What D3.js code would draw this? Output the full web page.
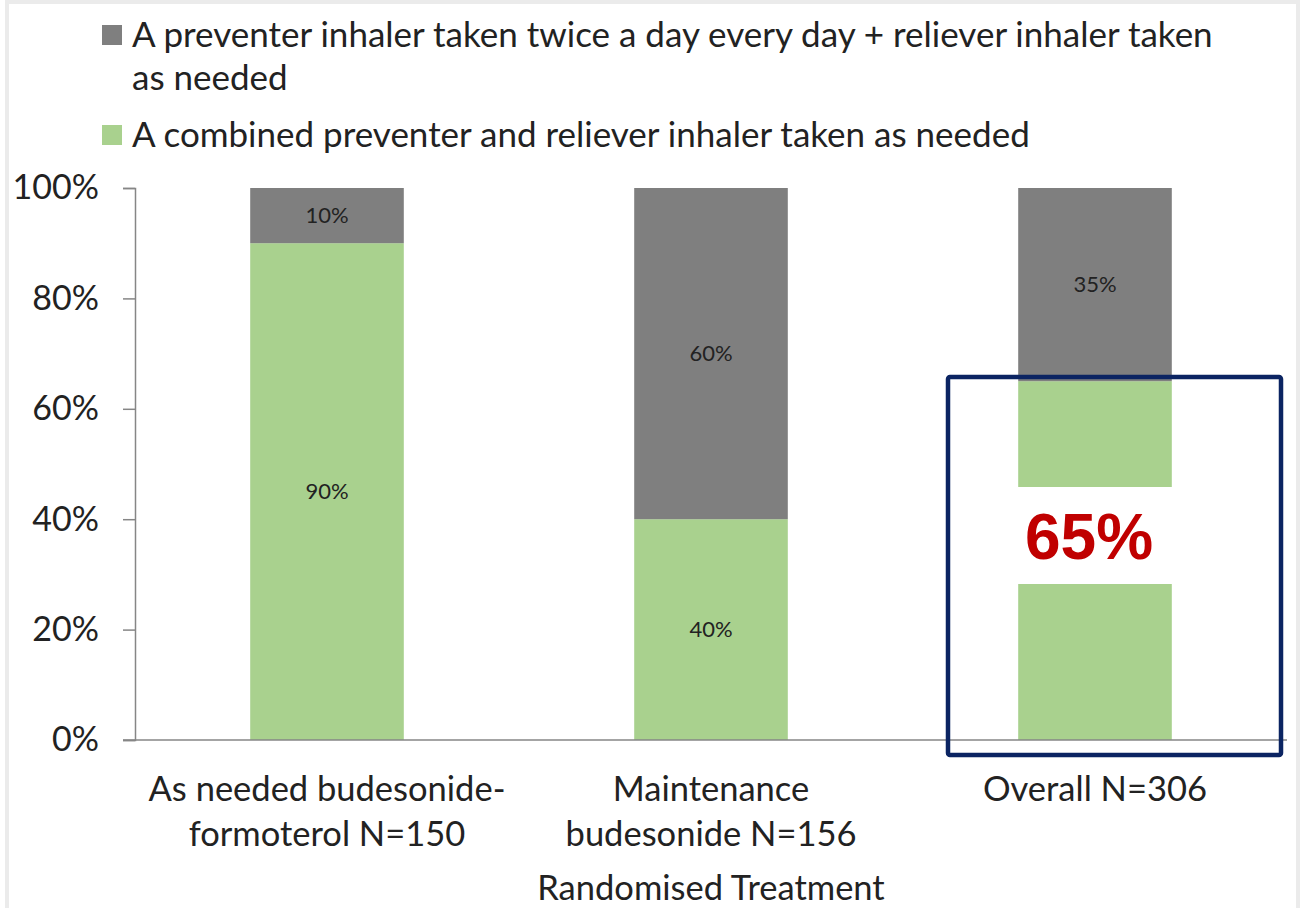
<!DOCTYPE html>
<html>
<head>
<meta charset="utf-8">
<script src="https://cdn.jsdelivr.net/npm/d3@7"></script>
<style>
  body { margin: 0; background: #fff; }
</style>
</head>
<body>
<script>
// chart values
const categories = ['As needed budesonide-|formoterol N=150', 'Maintenance|budesonide N=156', 'Overall N=306']
const combined = [90, 40, 65]
const preventer = [10, 60, 35]
const seriesNames = ['A preventer inhaler taken twice a day every day + reliever inhaler taken|as needed',
  'A combined preventer and reliever inhaler taken as needed']
const yTicks = [0, 20, 40, 60, 80, 100]
const highlight = '65%'

const W = 1301, H = 908
const margin = {top: 188, right: 14, bottom: 168, left: 135}
const green = '#a9d18e', grey = '#7f7f7f'
const font = 'Lato, sans-serif'

const svg = d3.select('body').append('svg')
    .attr('width', W)
    .attr('height', H)
    .attr('font-family', font)

// light frame
svg.append('rect')
    .attr('x', 7).attr('y', 2)
    .attr('width', W - 10).attr('height', H + 10)
    .attr('fill', 'none')
    .attr('stroke', '#ebebeb')
    .attr('stroke-width', 4)

const x = d3.scaleBand()
    .domain(categories)
    .range([margin.left, W - margin.right])
    .paddingInner(0.6)
    .paddingOuter(0.3)

const y = d3.scaleLinear()
    .domain([0, 100])
    .range([H - margin.bottom, margin.top])

// y axis
const yAxis = svg.append('g')
    .attr('transform', 'translate(' + margin.left + ',0)')
    .call(d3.axisLeft(y).tickValues(yTicks).tickFormat(d => d + '%').tickSize(12).tickPadding(24))
yAxis.select('.domain').attr('stroke', '#868686').attr('stroke-width', 1.5)
yAxis.selectAll('.tick line').attr('stroke', '#868686').attr('stroke-width', 1.5)
yAxis.selectAll('.tick text')
    .attr('font-size', '34px')
    .attr('fill', '#222')
    .attr('font-family', font)

// stacked bars
const rows = categories.map((c, i) => ({cat: c, combined: combined[i], preventer: preventer[i]}))
const stack = d3.stack().keys(['combined', 'preventer'])(rows)
const colors = {combined: green, preventer: grey}

const layers = svg.selectAll('.layer').data(stack)
    .enter().append('g')
    .attr('class', 'layer')
    .attr('fill', d => colors[d.key])

layers.selectAll('rect').data(d => d)
    .enter().append('rect')
    .attr('x', d => x(d.data.cat))
    .attr('y', d => y(d[1]))
    .attr('width', x.bandwidth())
    .attr('height', d => y(d[0]) - y(d[1]))

// data labels (not on overall green, covered by callout)
stack.forEach(layer => {
  layer.forEach((d, i) => {
    if (layer.key === 'combined' && i === 2) return
    svg.append('text')
        .attr('x', x(d.data.cat) + x.bandwidth() / 2)
        .attr('y', (y(d[0]) + y(d[1])) / 2)
        .attr('dy', '0.35em')
        .attr('text-anchor', 'middle')
        .attr('font-size', '22px')
        .attr('fill', '#222')
        .text(d[1] - d[0] + '%')
  })
})

// x baseline
svg.append('line')
    .attr('x1', margin.left - 12).attr('x2', W - margin.right)
    .attr('y1', y(0)).attr('y2', y(0))
    .attr('stroke', '#868686')
    .attr('stroke-width', 1.5)

// category labels
categories.forEach(c => {
  const t = svg.append('text')
      .attr('text-anchor', 'middle')
      .attr('font-size', '34.5px')
      .attr('fill', '#222')
  c.split('|').forEach((line, j) => {
    t.append('tspan')
        .attr('x', x(c) + x.bandwidth() / 2)
        .attr('y', y(0) + 61 + j * 45)
        .text(line)
  })
})

svg.append('text')
    .attr('x', x(categories[1]) + x.bandwidth() / 2)
    .attr('y', 900)
    .attr('text-anchor', 'middle')
    .attr('font-size', '34.5px')
    .attr('fill', '#222')
    .text('Randomised Treatment')

// legend
const legendY = [25, 125]
const legendCol = [grey, green]
seriesNames.forEach((s, i) => {
  svg.append('rect')
      .attr('x', 102).attr('y', legendY[i])
      .attr('width', 20).attr('height', 20)
      .attr('fill', legendCol[i])
  const t = svg.append('text')
      .attr('font-size', '35px')
      .attr('fill', '#222')
  s.split('|').forEach((line, j) => {
    t.append('tspan')
        .attr('x', 132)
        .attr('y', legendY[i] + 22 + j * 43)
        .text(line)
  })
})

// callout over overall bar
const cx = x(categories[2]) + x.bandwidth() / 2
svg.append('rect')
    .attr('x', cx - 90).attr('y', 487)
    .attr('width', 180).attr('height', 97)
    .attr('fill', '#fff')
svg.append('text')
    .attr('x', cx - 6)
    .attr('y', 559)
    .attr('text-anchor', 'middle')
    .attr('font-family', '"Liberation Sans", Arial, sans-serif')
    .attr('font-weight', 'bold')
    .attr('font-size', '64px')
    .attr('fill', '#c00000')
    .text(highlight)
svg.append('rect')
    .attr('x', 948).attr('y', 377)
    .attr('width', 333).attr('height', 378)
    .attr('rx', 2)
    .attr('fill', 'none')
    .attr('stroke', '#0b2462')
    .attr('stroke-width', 4.5)
</script>
</body>
</html>
